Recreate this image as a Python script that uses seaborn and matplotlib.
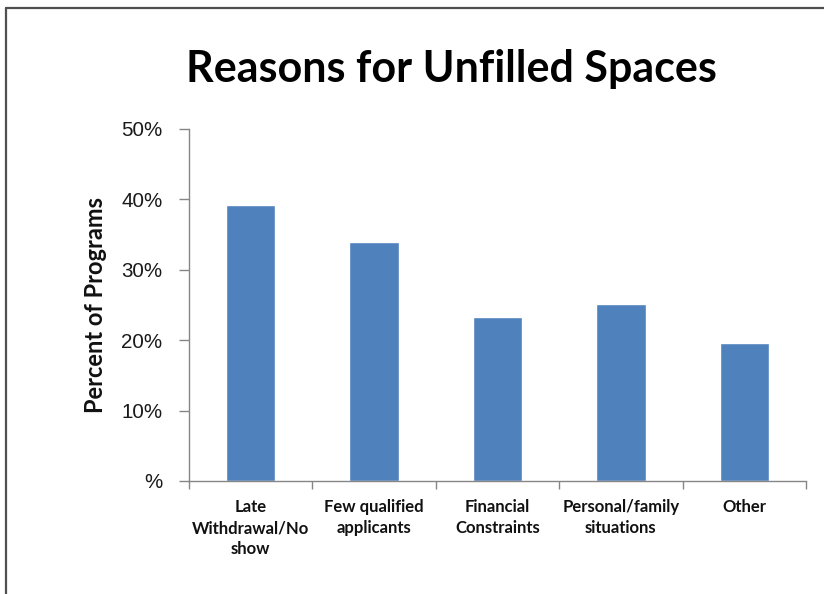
import matplotlib
matplotlib.use("Agg")
import matplotlib.pyplot as plt
import seaborn as sns
import pandas as pd
from matplotlib.lines import Line2D
from matplotlib.ticker import FuncFormatter, MultipleLocator

categories = ["Late\nWithdrawal/No\nshow", "Few qualified\napplicants",
              "Financial\nConstraints", "Personal/family\nsituations", "Other"]
percent = [0.392, 0.339, 0.233, 0.251, 0.196]

df = pd.DataFrame({"reason": categories, "share": percent})

sns.set_theme(style="white")
plt.rcParams["font.family"] = ["Liberation Sans", "DejaVu Sans"]

fig = plt.figure(figsize=(8.24, 5.94), dpi=100)
ax = fig.add_axes([189 / 824, 1 - 481 / 594, (806 - 189) / 824, (481 - 129) / 594])

sns.barplot(data=df, x="reason", y="share", color="#4F81BD", width=0.4,
            saturation=1, ax=ax)

ax.set_ylim(0, 0.5)
ax.set_xlim(-0.5, len(categories) - 0.5)
ax.yaxis.set_major_locator(MultipleLocator(0.1))
ax.yaxis.set_major_formatter(FuncFormatter(lambda v, _: "%" if abs(v) < 1e-9 else f"{v * 100:.0f}%"))

spine_col = "#868686"
for side in ["top", "right"]:
    ax.spines[side].set_visible(False)
for side in ["left", "bottom"]:
    ax.spines[side].set_color(spine_col)
    ax.spines[side].set_linewidth(1.0)

ax.tick_params(axis="y", which="major", direction="out", length=7, width=1,
               color=spine_col, labelsize=14.8, labelcolor="#1a1a1a", pad=12, left=True)
ax.tick_params(axis="x", which="major", length=0, pad=13)
ax.set_xticks(range(len(categories)))
ax.set_xticklabels(categories, fontfamily=["Lato", "DejaVu Sans"], fontweight="bold",
                   fontsize=12, linespacing=1.4, color="#111111")
# category boundary ticks
ax.set_xticks([i - 0.5 for i in range(len(categories) + 1)], minor=True)
ax.tick_params(axis="x", which="minor", direction="out", length=6, width=1,
               color=spine_col, bottom=True)

ax.set_xlabel("")
ax.set_ylabel("Percent of Programs", fontfamily=["Lato", "DejaVu Sans"],
              fontweight="bold", fontsize=17, color="#111111")
ax.yaxis.set_label_coords(-0.133, 0.5)

fig.text(451 / 824, 1 - 69 / 594, "Reasons for Unfilled Spaces",
         fontfamily=["Lato", "DejaVu Sans"], fontweight="bold", fontsize=31,
         ha="center", va="center", color="#000000")

# outer frame (top and left edges)
frame_col = "#505050"
fig.add_artist(Line2D([6 / 824, 6 / 824], [0, 1 - 8 / 594], transform=fig.transFigure,
                      color=frame_col, linewidth=1.6))
fig.add_artist(Line2D([6 / 824, 1], [1 - 8 / 594, 1 - 8 / 594], transform=fig.transFigure,
                      color=frame_col, linewidth=1.6))

fig.savefig("out.png", dpi=100, facecolor="white")
